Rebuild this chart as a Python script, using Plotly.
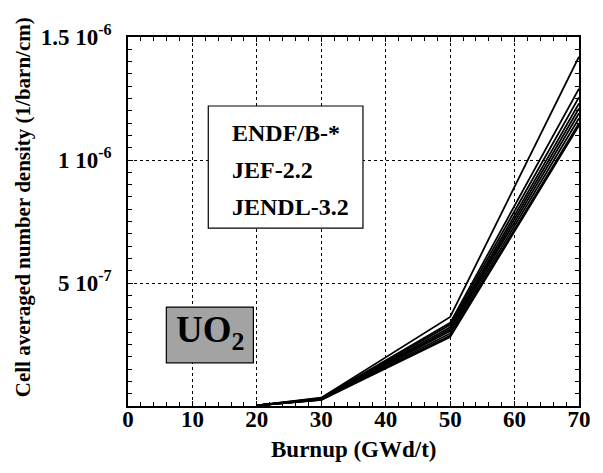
import plotly.graph_objects as go

# burnup steps (GWd/t)
burnup = [20, 30, 50, 70]

# cell averaged number density for each library / case (1/barn/cm)
dens_1 = [2e-9, 3.4e-8, 3.62e-7, 1.42e-6]
dens_2 = [2e-9, 3.2e-8, 3.38e-7, 1.29e-6]
dens_3 = [2e-9, 3.0e-8, 3.30e-7, 1.255e-6]
dens_4 = [2e-9, 2.9e-8, 3.20e-7, 1.23e-6]
dens_5 = [2e-9, 2.8e-8, 3.12e-7, 1.21e-6]
dens_6 = [2e-9, 2.7e-8, 3.05e-7, 1.19e-6]
dens_7 = [2e-9, 2.6e-8, 2.95e-7, 1.17e-6]
dens_8 = [2e-9, 2.5e-8, 2.86e-7, 1.15e-6]
dens_9 = [2e-9, 2.5e-8, 2.80e-7, 1.14e-6]
all_dens = [dens_1, dens_2, dens_3, dens_4, dens_5, dens_6, dens_7, dens_8, dens_9]

legend_names = ["ENDF/B-*", "JEF-2.2", "JENDL-3.2"]

x_ticks = [0, 10, 20, 30, 40, 50, 60, 70]
y_ticks = [5e-7, 1e-6, 1.5e-6]
y_ticktext = ["5 10<sup>-7</sup>", "1 10<sup>-6</sup>", "1.5 10<sup>-6</sup>"]

FONT = "Liberation Serif"

fig = go.Figure()
for d in all_dens:
    fig.add_trace(go.Scatter(x=burnup, y=d, mode="lines",
                             line=dict(color="black", width=1.8),
                             showlegend=False))

# page body has an 8px margin, so the figure is a bit smaller than the window
fig.update_layout(
    width=595, height=465,
    margin=dict(l=120, r=14, t=29, b=67),
    plot_bgcolor="white", paper_bgcolor="white",
    font=dict(family=FONT, color="black"),
)

fig.update_xaxes(
    range=[0, 70], tickvals=x_ticks,
    tickfont=dict(size=23, family=FONT, weight="bold"),
    ticks="inside", ticklen=5, tickcolor="black",
    minor=dict(tickmode="linear", tick0=0, dtick=2, ticks="inside", ticklen=4,
               tickcolor="black", showgrid=False),
    showline=True, linecolor="black", linewidth=1.5, mirror="ticks",
    showgrid=True, gridcolor="black", griddash="dot", gridwidth=1,
    zeroline=False,
    ticklabelstandoff=-8,
)

fig.update_yaxes(
    range=[0, 1.5e-6], tickvals=y_ticks, ticktext=y_ticktext,
    tickfont=dict(size=23, family=FONT, weight="bold"),
    ticks="inside", ticklen=5, tickcolor="black",
    minor=dict(tickmode="linear", tick0=0, dtick=5e-8, ticks="inside", ticklen=4,
               tickcolor="black", showgrid=False),
    showline=True, linecolor="black", linewidth=1.5, mirror="ticks",
    showgrid=True, gridcolor="black", griddash="dot", gridwidth=1,
    zeroline=False,
    ticklabelstandoff=10,
)

# axis titles as annotations, placed like the original
fig.add_annotation(text="Burnup (GWd/t)",
                   xref="paper", yref="paper", x=0.5, y=-0.118,
                   xanchor="center", yanchor="middle", showarrow=False,
                   font=dict(size=23, family=FONT, weight="bold"))
fig.add_annotation(text="Cell averaged number density (1/barn/cm)",
                   xref="paper", yref="paper", x=-0.234, y=0.54,
                   xanchor="center", yanchor="middle", textangle=-90, showarrow=False,
                   font=dict(size=21, family=FONT, weight="bold"))

# legend box (labels only, as in the original)
fig.add_shape(type="rect", xref="paper", yref="paper",
              x0=0.178, x1=0.521, y0=0.482, y1=0.813,
              line=dict(color="black", width=1.2), fillcolor="white", layer="above")
for name, yy in zip(legend_names, [0.740, 0.640, 0.539]):
    fig.add_annotation(text=name, xref="paper", yref="paper", x=0.226, y=yy,
                       xanchor="left", yanchor="middle", showarrow=False,
                       font=dict(size=24, family=FONT, weight="bold"))

# UO2 label
fig.add_shape(type="rect", xref="paper", yref="paper",
              x0=0.085, x1=0.278, y0=0.117, y1=0.268,
              line=dict(color="black", width=1.2), fillcolor="#a3a3a3", layer="above")
fig.add_annotation(text="UO<sub>2</sub>", xref="paper", yref="paper", x=0.181, y=0.198,
                   xanchor="center", yanchor="middle", showarrow=False,
                   font=dict(size=37, family=FONT, weight="bold"))

fig.write_html("out.html")
